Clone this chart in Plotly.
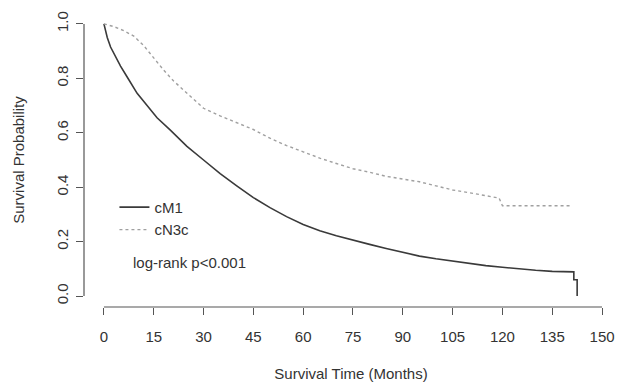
import plotly.graph_objects as go

# cM1 (solid) Kaplan-Meier estimate
cm1_time = [0, 1, 2, 3, 5, 7, 10, 13, 16, 20, 25, 30, 35, 40, 45, 50, 55, 60, 65, 70,
            75, 80, 85, 90, 95, 100, 105, 110, 115, 120, 125, 130, 135, 141.5, 141.5, 142.5, 142.5]
cm1_surv = [1.0, 0.95, 0.915, 0.89, 0.845, 0.805, 0.745, 0.70, 0.655, 0.61, 0.55, 0.50, 0.45,
            0.405, 0.362, 0.325, 0.292, 0.263, 0.24, 0.222, 0.205, 0.19, 0.175, 0.16, 0.147,
            0.137, 0.128, 0.12, 0.112, 0.106, 0.10, 0.095, 0.091, 0.089, 0.06, 0.06, 0.0]

# cN3c (dotted)
cn3c_time = [0, 3, 6, 9, 12, 15, 18, 21, 24, 27, 30, 35, 40, 45, 50, 55, 60, 65, 70, 75,
             80, 85, 90, 95, 100, 105, 110, 115, 119, 120, 140.5]
cn3c_surv = [1.0, 0.99, 0.975, 0.955, 0.92, 0.875, 0.83, 0.79, 0.757, 0.722, 0.69, 0.662,
             0.636, 0.612, 0.58, 0.553, 0.53, 0.507, 0.487, 0.468, 0.455, 0.44, 0.43, 0.42,
             0.405, 0.39, 0.38, 0.37, 0.36, 0.332, 0.332]

x_ticks = [0, 15, 30, 45, 60, 75, 90, 105, 120, 135, 150]
y_ticks = [0.0, 0.2, 0.4, 0.6, 0.8, 1.0]
y_tick_text = ["0.0", "0.2", "0.4", "0.6", "0.8", "1.0"]

FONT = "Liberation Sans, Arial, sans-serif"
TXT = "#333333"
FS = 15

fig = go.Figure()
fig.add_trace(go.Scatter(x=cm1_time, y=cm1_surv, mode="lines", name="cM1",
                         line=dict(color="#3a3a3a", width=1.6)))
fig.add_trace(go.Scatter(x=cn3c_time, y=cn3c_surv, mode="lines", name="cN3c",
                         line=dict(color="#a0a0a0", width=1.4, dash="dot")))

# R-style axis lines spanning only the tick range
fig.add_shape(type="line", xref="x", yref="paper", x0=x_ticks[0], x1=x_ticks[-1], y0=0, y1=0,
              line=dict(color="#555555", width=1.2))
fig.add_shape(type="line", xref="paper", yref="y", x0=0, x1=0, y0=y_ticks[0], y1=y_ticks[-1],
              line=dict(color="#555555", width=1.2))

fig.add_annotation(x=8.3, y=0.125, xref="x", yref="y", text="log-rank p<0.001",
                   showarrow=False, xanchor="left", yanchor="middle",
                   font=dict(family=FONT, size=FS, color=TXT))

fig.update_layout(
    width=618, height=382,
    margin=dict(l=84, r=0, t=13, b=75),
    paper_bgcolor="white", plot_bgcolor="white",
    font=dict(family=FONT, size=FS, color=TXT),
    showlegend=True,
    legend=dict(x=0.057, y=0.395, xanchor="left", yanchor="top",
                bgcolor="rgba(0,0,0,0)", font=dict(size=FS, color=TXT),
                tracegroupgap=0, itemwidth=30),
    xaxis=dict(range=[-6, 154.8], tickmode="array", tickvals=x_ticks,
               showgrid=False, zeroline=False, showline=False,
               ticks="outside", ticklen=7, tickcolor="#555555", tickwidth=1.2,
               ticklabelstandoff=9,
               title=dict(text="Survival Time (Months)", standoff=26,
                          font=dict(size=FS, color=TXT))),
    yaxis=dict(range=[-0.04, 1.04], tickmode="array", tickvals=y_ticks, ticktext=y_tick_text,
               showgrid=False, zeroline=False, showline=False,
               ticks="outside", ticklen=7, tickcolor="#555555", tickwidth=1.2,
               tickangle=-90, ticklabelstandoff=2,
               title=dict(text="Survival Probability", standoff=25,
                          font=dict(size=FS, color=TXT))),
)

fig.write_html("out.html")
